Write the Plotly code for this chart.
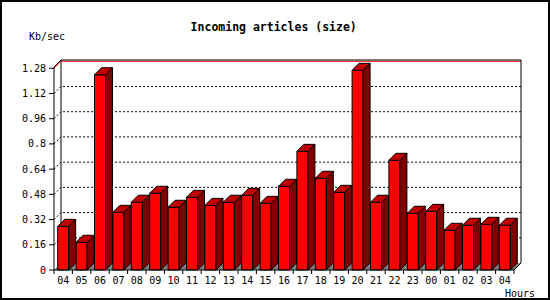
import plotly.graph_objects as go

# ---------------- data ----------------
hours = ["04", "05", "06", "07", "08", "09", "10", "11", "12", "13", "14", "15",
         "16", "17", "18", "19", "20", "21", "22", "23", "00", "01", "02", "03", "04"]
kb_per_sec = [0.277, 0.176, 1.239, 0.366, 0.430, 0.487, 0.398, 0.461, 0.410, 0.430,
              0.474, 0.423, 0.531, 0.753, 0.582, 0.493, 1.267, 0.430, 0.696, 0.360,
              0.372, 0.252, 0.284, 0.290, 0.284]
y_ticks = [0, 0.16, 0.32, 0.48, 0.64, 0.8, 0.96, 1.12, 1.28]
y_tick_labels = ["0", "0.16", "0.32", "0.48", "0.64", "0.8", "0.96", "1.12", "1.28"]
title_text = "Incoming articles (size)"
y_unit = "Kb/sec"
x_unit = "Hours"

# ---------------- geometry / style ----------------
W, H = 550, 300
ML, MR, MT, MB = 47, 28, 58, 24
PW, PH = W - ML - MR, H - MT - MB
CAT_PX = 18.4          # pixels per hour slot
UNIT_PX = 157.6        # pixels per Kb/sec
DEPTH = 7              # 3-D depth in pixels
ZERO_PX = 270          # pixel row of value 0
FRONT_LEFT_PX = 54
n = len(hours)
dx = DEPTH / CAT_PX
dy = DEPTH / UNIT_PX
bw = 11 / CAT_PX

x_lo = -0.5 - (FRONT_LEFT_PX - ML) / CAT_PX
x_range = [x_lo, x_lo + PW / CAT_PX]
y_lo = -(H - MB - ZERO_PX) / UNIT_PX
y_range = [y_lo, y_lo + PH / UNIT_PX]
y_top = (ZERO_PX - 60) / UNIT_PX   # frame top

FONT = "DejaVu Sans Mono"
FRONT_C, TOP_C, SIDE_C, FLOOR_C = "#FF0000", "#C00000", "#800000", "#808080"

xl_edge, xr_edge = -0.5, n - 0.5

def ppx(px):
    return (px - ML) / PW

def ppy(py):
    return (H - MB - py) / PH

shapes = []
# floor
shapes.append(dict(type="path", xref="x", yref="y", layer="below",
                   path=f"M {xl_edge},0 L {xl_edge+dx},{dy} L {xr_edge+dx},{dy} L {xr_edge},0 Z",
                   fillcolor=FLOOR_C, line=dict(width=0)))
# grid lines on back wall
for t in y_ticks[1:]:
    last = t == y_ticks[-1]
    shapes.append(dict(type="path", xref="x", yref="y", layer="below",
                       path=f"M {xl_edge},{t} L {xl_edge+dx},{t+dy} L {xr_edge+dx},{t+dy}",
                       line=dict(color="#FF0000" if last else "black", width=1,
                                 dash="solid" if last else "2px,2px")))
# back frame
shapes.append(dict(type="path", xref="x", yref="y", layer="below",
                   path=(f"M {xl_edge+dx},{dy} L {xl_edge+dx},{y_top} L {xr_edge+dx},{y_top} "
                         f"L {xr_edge+dx},{dy} L {xr_edge},0"),
                   line=dict(color="black", width=1)))
# outer border
shapes.append(dict(type="rect", xref="paper", yref="paper",
                   x0=ppx(1), x1=ppx(549), y0=ppy(299), y1=ppy(1),
                   line=dict(color="black", width=2)))

fig = go.Figure()

# front faces
fig.add_trace(go.Bar(x=list(range(n)), y=kb_per_sec, width=bw,
                     marker=dict(color=FRONT_C, line=dict(color="black", width=1)),
                     hoverinfo="skip"))

# top and side faces
tx, ty, sx, sy = [], [], [], []
for i, v in enumerate(kb_per_sec):
    a, b = i - bw / 2, i + bw / 2
    tx += [a, a + dx, b + dx, b, a, None]
    ty += [v, v + dy, v + dy, v, v, None]
    sx += [b, b + dx, b + dx, b, b, None]
    sy += [0, dy, v + dy, v, 0, None]
fig.add_trace(go.Scatter(x=sx, y=sy, mode="lines", fill="toself", fillcolor=SIDE_C,
                         line=dict(color="black", width=1), hoverinfo="skip"))
fig.add_trace(go.Scatter(x=tx, y=ty, mode="lines", fill="toself", fillcolor=TOP_C,
                         line=dict(color="black", width=1), hoverinfo="skip"))

# front axes, ticks
fx = [xr_edge, xl_edge, xl_edge, xl_edge + dx]
fy = [0, 0, y_top - dy, y_top]
for k in range(n + 1):
    fx += [None, k - 0.5, k - 0.5]
    fy += [None, 0, -4 / UNIT_PX]
for t in y_ticks:
    fx += [None, xl_edge - 5 / CAT_PX, xl_edge]
    fy += [None, t, t]
fig.add_trace(go.Scatter(x=fx, y=fy, mode="lines", line=dict(color="black", width=1),
                         hoverinfo="skip"))

fig.update_layout(
    width=W, height=H, margin=dict(l=ML, r=MR, t=MT, b=MB, autoexpand=False),
    paper_bgcolor="white", plot_bgcolor="white", showlegend=False,
    font=dict(family=FONT, size=10, color="black"),
    title=dict(text=title_text, x=273.7 / W, y=1 - 26.7 / H, xref="container", yref="container",
               xanchor="center", yanchor="middle",
               font=dict(family=FONT, size=11.5, weight="bold", color="black")),
    xaxis=dict(range=x_range, tickvals=list(range(n)), ticktext=hours, ticks="",
               ticklabelstandoff=-3,
               showgrid=False, zeroline=False, showline=False, fixedrange=True),
    yaxis=dict(range=y_range, tickvals=y_ticks, ticktext=y_tick_labels, ticks="",
               showgrid=False, zeroline=False, showline=False, fixedrange=True),
    shapes=shapes,
    annotations=[
        dict(text=y_unit, xref="paper", yref="paper", x=ppx(47.2), y=ppy(36.7),
             xanchor="center", yanchor="middle", showarrow=False,
             font=dict(family=FONT, size=10, color="black")),
        dict(text=x_unit, xref="paper", yref="paper", x=ppx(519.5), y=ppy(293),
             xanchor="center", yanchor="middle", showarrow=False,
             font=dict(family=FONT, size=10, color="black")),
    ],
)

fig.write_html("out.html")
